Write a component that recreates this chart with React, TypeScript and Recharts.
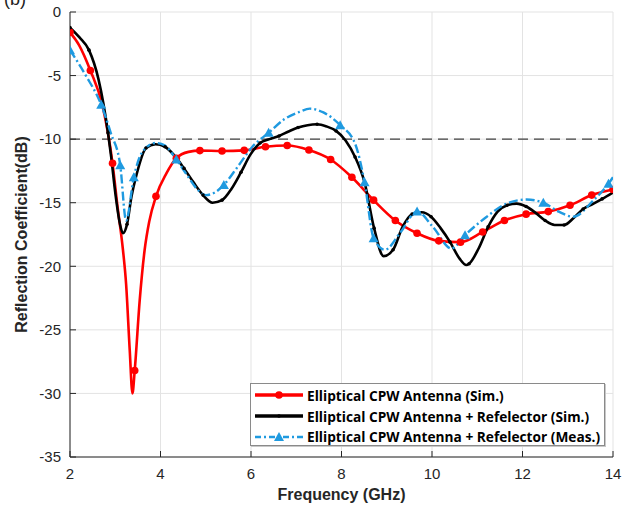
import React from "react";
import {
  LineChart, Line, XAxis, YAxis, CartesianGrid, ReferenceLine,
} from "recharts";

const xTicks = [2, 4, 6, 8, 10, 12, 14];
const yTicks = [-35, -30, -25, -20, -15, -10, -5, 0];
const threshold = -10;

// Elliptical CPW Antenna (Sim.)
const simFreq = [2.0, 2.2, 2.45, 2.72, 2.94, 3.05, 3.17, 3.24, 3.32, 3.38, 3.43, 3.54, 3.65, 3.75, 3.9, 4.13, 4.35, 4.62, 4.87, 5.36, 5.85, 6.32, 6.8, 7.28, 7.76, 8.23, 8.71, 9.19, 9.67, 10.15, 10.63, 11.12, 11.6, 12.08, 12.57, 13.05, 13.53, 14.0];
const simDb = [-1.6, -2.6, -4.6, -7.4, -11.9, -15.3, -18.7, -21.4, -26.6, -30.0, -28.2, -22.7, -18.7, -16.5, -14.5, -12.7, -11.5, -11.0, -10.9, -10.93, -10.88, -10.6, -10.5, -10.85, -11.6, -13.0, -14.8, -16.4, -17.4, -18.0, -18.1, -17.3, -16.4, -15.9, -15.7, -15.2, -14.4, -13.96];
const simMarks = [2.0, 2.45, 2.94, 3.43, 3.9, 4.35, 4.87, 5.36, 5.85, 6.32, 6.8, 7.28, 7.76, 8.23, 8.71, 9.19, 9.67, 10.15, 10.63, 11.12, 11.6, 12.08, 12.57, 13.05, 13.53, 14.0];

// Elliptical CPW Antenna + Refelector (Sim.)
const reflFreq = [2.0, 2.21, 2.42, 2.63, 2.84, 2.91, 3.0, 3.1, 3.17, 3.26, 3.36, 3.47, 3.68, 3.89, 4.1, 4.31, 4.52, 4.73, 4.94, 5.15, 5.36, 5.57, 5.78, 5.99, 6.2, 6.41, 6.62, 6.83, 7.04, 7.25, 7.46, 7.67, 7.88, 8.09, 8.3, 8.51, 8.72, 8.93, 9.14, 9.35, 9.56, 9.77, 9.98, 10.19, 10.4, 10.61, 10.76, 10.82, 11.03, 11.24, 11.45, 11.66, 11.87, 12.08, 12.29, 12.5, 12.71, 12.92, 13.13, 13.34, 13.55, 13.76, 14.0];
const reflDb = [-1.23, -2.0, -3.0, -5.3, -9.5, -11.4, -14.2, -16.6, -17.4, -16.7, -14.5, -12.8, -10.7, -10.4, -10.6, -11.3, -12.3, -13.4, -14.4, -15.0, -14.8, -13.9, -12.6, -11.2, -10.3, -10.0, -9.75, -9.4, -9.09, -8.9, -8.83, -9.0, -9.35, -10.1, -11.4, -13.4, -17.0, -19.2, -18.7, -16.9, -15.9, -15.75, -16.1, -17.0, -18.1, -19.4, -19.9, -19.8, -18.6, -16.9, -15.7, -15.2, -15.07, -15.3, -15.8, -16.4, -16.75, -16.75, -16.2, -15.5, -15.1, -14.7, -14.2];
const reflMarks = [2.0, 2.42, 2.84, 3.26, 3.68, 4.1, 4.52, 4.94, 5.36, 5.78, 6.2, 6.62, 7.04, 7.46, 7.88, 8.3, 8.72, 9.14, 9.56, 9.98, 10.4, 10.82, 11.24, 11.66, 12.08, 12.5, 12.92, 13.34, 13.76];

// Elliptical CPW Antenna + Refelector (Meas.)
const measFreq = [2.0, 2.35, 2.69, 2.9, 3.11, 3.24, 3.41, 3.6, 3.9, 4.1, 4.35, 4.6, 4.8, 5.0, 5.2, 5.4, 5.7, 6.03, 6.39, 6.75, 7.07, 7.3, 7.6, 7.97, 8.3, 8.51, 8.71, 8.96, 9.29, 9.67, 10.02, 10.43, 10.73, 11.21, 11.65, 12.09, 12.46, 12.8, 13.12, 13.57, 13.9, 14.0];
const measDb = [-3.0, -5.0, -7.3, -9.5, -12.05, -16.4, -13.0, -11.0, -10.3, -10.5, -11.6, -12.9, -13.9, -14.4, -14.2, -13.6, -12.2, -10.6, -9.5, -8.4, -7.86, -7.6, -7.9, -8.9, -10.35, -13.4, -17.8, -18.7, -17.4, -15.7, -16.9, -18.6, -17.55, -16.1, -15.07, -14.75, -15.0, -15.7, -16.1, -14.8, -13.5, -13.0];
const measMarks = [2.0, 2.69, 3.11, 3.41, 4.35, 5.4, 6.39, 7.97, 8.51, 8.71, 9.67, 10.73, 12.46, 13.9];

const RED = "#ff0000";
const BLACK = "#000000";
const BLUE = "#1f9ae0";
const AXIS = "#262626";
const FONT = "'Liberation Sans', Arial, sans-serif";

const toRows = (xs: number[], ys: number[]) => xs.map((x, i) => ({ x, y: ys[i] }));
const simData = toRows(simFreq, simDb);
const reflData = toRows(reflFreq, reflDb);
const measData = toRows(measFreq, measDb);

function markDot(marks: number[], kind: "circle" | "small" | "tri", color: string) {
  return (p: any) => {
    const key = `d-${kind}-${p.index}`;
    if (!marks.includes(p.payload.x)) return <g key={key} />;
    if (kind === "tri") {
      const s = 5;
      return <path key={key} d={`M${p.cx},${p.cy - s}L${p.cx + s},${p.cy + s * 0.8}L${p.cx - s},${p.cy + s * 0.8}Z`} fill={color} />;
    }
    return <circle key={key} cx={p.cx} cy={p.cy} r={kind === "circle" ? 3.8 : 1.8} fill={color} />;
  };
}

const legendRows = [
  { label: "Elliptical CPW Antenna (Sim.)", color: RED, dash: "", mark: "circle" },
  { label: "Elliptical CPW Antenna + Refelector (Sim.)", color: BLACK, dash: "", mark: "small" },
  { label: "Elliptical CPW Antenna + Refelector (Meas.)", color: BLUE, dash: "6 3 2 3", mark: "tri" },
];

export default function App() {
  return (
    <div style={{ position: "absolute", left: 0, top: 0, width: 624, height: 508, background: "#fff", overflow: "hidden" }}>
      <div style={{ position: "absolute", left: 4, top: -11, fontFamily: FONT, fontSize: 18, color: "#222" }}>(b)</div>
      <LineChart width={624} height={508} margin={{ top: 12, right: 11, left: 0, bottom: 0 }}>
        <CartesianGrid stroke="#e3e3e3" strokeWidth={1} horizontalValues={yTicks} verticalValues={xTicks} />
        <XAxis
          dataKey="x" type="number" domain={[2, 14]} ticks={xTicks} allowDataOverflow
          height={51} stroke={AXIS} tickSize={-6} tickMargin={17}
          tick={{ fontSize: 15, fill: AXIS, fontFamily: FONT }}
          label={{
            content: (lp: any) => (
              <text x={lp.viewBox.x + lp.viewBox.width / 2} y={500} textAnchor="middle"
                fontFamily={FONT} fontWeight="bold" fontSize={16} fill={AXIS}>Frequency (GHz)</text>
            ),
          }}
        />
        <XAxis xAxisId="t" orientation="top" type="number" domain={[2, 14]} ticks={xTicks} height={0}
          stroke={AXIS} tickSize={-6} tickFormatter={() => ""} />
        <YAxis
          type="number" domain={[-35, 0]} ticks={yTicks} allowDataOverflow
          width={70} stroke={AXIS} tickSize={-6} tickMargin={15}
          tick={{ fontSize: 15, fill: AXIS, fontFamily: FONT }}
          label={{
            content: (lp: any) => {
              const cy = lp.viewBox.y + lp.viewBox.height / 2;
              return (
                <text x={27} y={cy} transform={`rotate(-90, 27, ${cy})`} textAnchor="middle"
                  fontFamily={FONT} fontWeight="bold" fontSize={16} fill={AXIS}>Reflection Coefficient(dB)</text>
              );
            },
          }}
        />
        <YAxis yAxisId="r" orientation="right" type="number" domain={[-35, 0]} ticks={yTicks} width={0}
          stroke={AXIS} tickSize={-6} tickFormatter={() => ""} />
        <ReferenceLine y={threshold} stroke="#404040" strokeWidth={1.3} strokeDasharray="10 6" />
        <Line data={simData} dataKey="y" type="monotone" stroke={RED} strokeWidth={2.6}
          dot={markDot(simMarks, "circle", RED)} activeDot={false} isAnimationActive={false} />
        <Line data={reflData} dataKey="y" type="monotone" stroke={BLACK} strokeWidth={2.6}
          dot={markDot(reflMarks, "small", BLACK)} activeDot={false} isAnimationActive={false} />
        <Line data={measData} dataKey="y" type="monotone" stroke={BLUE} strokeWidth={2.4} strokeDasharray="9 3 2 3"
          dot={markDot(measMarks, "tri", BLUE)} activeDot={false} isAnimationActive={false} />
      </LineChart>
      <div style={{
        position: "absolute", left: 250, top: 383, width: 355, height: 63, background: "#fff",
        border: "1px solid #8a8a8a", boxShadow: "1px 1px 0 #c8c8c8", boxSizing: "border-box",
        padding: "1px 0 0 3px",
      }}>
        {legendRows.map((r) => (
          <div key={r.label} style={{ display: "flex", alignItems: "center", height: 20.7 }}>
            <svg width={50} height={14} style={{ flex: "none" }}>
              <line x1={1} x2={49} y1={7} y2={7} stroke={r.color} strokeWidth={r.mark === "tri" ? 2.6 : 3.6} strokeDasharray={r.dash} />
              {r.mark === "circle" && <circle cx={25} cy={7} r={3.8} fill={r.color} />}
              {r.mark === "small" && <circle cx={25} cy={7} r={1.8} fill={r.color} />}
              {r.mark === "tri" && <path d="M25,2L30,11L20,11Z" fill={r.color} />}
            </svg>
            <span style={{ marginLeft: 3, fontFamily: "'Open Sans', sans-serif", fontWeight: 700, fontSize: 13.7, color: "#000", whiteSpace: "nowrap" }}>
              {r.label}
            </span>
          </div>
        ))}
      </div>
    </div>
  );
}
